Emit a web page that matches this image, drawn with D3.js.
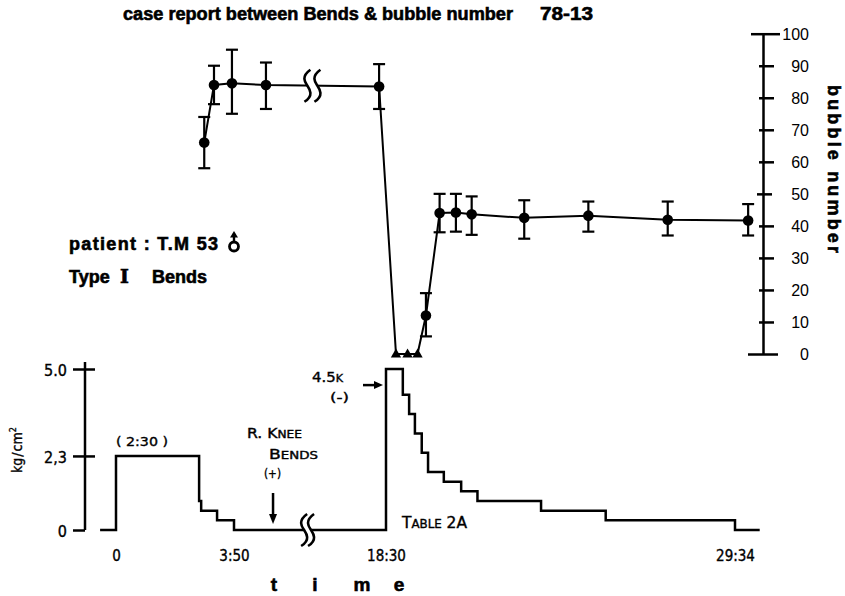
<!DOCTYPE html>
<html lang="en">
<head>
<meta charset="utf-8">
<title>case report between Bends &amp; bubble number 78-13</title>
<script src="https://d3js.org/d3.v7.min.js"></script>
<style>
    body{margin:0;background:#fff;}
    svg{display:block;font-family:"Liberation Sans",Arial,sans-serif;}
    .note{font-family:"DejaVu Sans Condensed","DejaVu Sans",sans-serif;stroke:#000;stroke-width:0.35px;}
    .heavy{stroke:#000;stroke-width:0.6px;}
</style>
</head>
<body>
<div id="chart"></div>
<script>
// time is in minutes from the start of the dive
// bubble counts: mean and the ends of the error bars
var bubbleTime = [172, 191, 226, 415, 1070, 1186, 1212, 1243, 1273, 1373, 1495, 1646, 1799]
var bubbleMean = [66, 84, 84.5, 84, 83.5, 12, 44, 44.2, 43.6, 42.5, 43.2, 41.9, 41.7]
var bubbleLow  = [58, 78, 75, 76.5, 76.5, 5.5, 38, 38.2, 37.2, 36, 38.2, 37, 37]
var bubbleHigh = [74, 90, 95, 91, 90.5, 19, 50, 50, 49.2, 48, 47.6, 47.6, 46.8]
// times where no bubbles were counted (triangles)
var zeroTime = [1129, 1151, 1170]

// pressure profile (kg/cm2), each value holds until the next time
var pressTime  = [-31, 0, 162, 166, 197, 230, 1110, 1142, 1154, 1165, 1178, 1190, 1220, 1253, 1284, 1405, 1528, 1774, 1821]
var pressValue = [0, 2.3, 0.9, 0.6, 0.3, 0, 5.0, 4.2, 3.6, 3.0, 2.4, 1.8, 1.5, 1.2, 0.9, 0.6, 0.3, 0, 0]

var timeTicks = [0, 230, 1110, 1774]
var timeLabels = ["0", "3:50", "18:30", "29:34"]
var pressTicks = [0, 2.3, 5.0]
var pressLabels = ["0", "2,3", "5.0"]
var bubbleTicks = d3.range(0, 101, 10)

// broken time axis
var breakTop = [655, 713]
var breakBottom = [636, 676]
var kneeTime = 456

var w = 845
var h = 596

// time scale has a compressed stretch between 3:50 and 18:30
var x = d3.scaleLinear().domain(timeTicks).range([116, 234, 386, 735])
var yB = d3.scaleLinear().domain([0, 100]).range([354, 33.7])
var yP = d3.scaleLinear().domain([0, 5]).range([530, 369])

var svg = d3.select("#chart").append("svg")
    .attr("width", w)
    .attr("height", h)

svg.append("rect").attr("width", w).attr("height", h).attr("fill", "#fff")

// title
svg.append("text").attr("class", "heavy").attr("x", 123).attr("y", 20)
    .attr("font-size", 18).attr("font-weight", "bold")
    .attr("textLength", 390).attr("lengthAdjust", "spacingAndGlyphs")
    .text("case report between Bends & bubble number")
svg.append("text").attr("class", "heavy").attr("x", 540).attr("y", 20)
    .attr("font-size", 18).attr("font-weight", "bold")
    .attr("textLength", 53).attr("lengthAdjust", "spacingAndGlyphs")
    .text("78-13")

// patient info
svg.append("text").attr("class", "heavy").attr("x", 69).attr("y", 250)
    .attr("font-size", 18).attr("font-weight", "bold")
    .attr("textLength", 149).attr("lengthAdjust", "spacing")
    .text("patient : T.M 53")
// male sign, arrow up
var male = svg.append("g").attr("stroke", "#000").attr("fill", "none")
male.append("circle").attr("cx", 234).attr("cy", 246.5).attr("r", 4.5).attr("stroke-width", 2.8)
male.append("line").attr("x1", 234).attr("x2", 234).attr("y1", 242).attr("y2", 236).attr("stroke-width", 2.4)
male.append("path").attr("d", "M230,237.5L234,231L238,237.5Z").attr("fill", "#000").attr("stroke", "none")

var typeText = svg.append("text").attr("class", "heavy").attr("y", 283).attr("font-size", 18).attr("font-weight", "bold")
typeText.append("tspan").attr("x", 69).text("Type")
typeText.append("tspan").attr("x", 120).attr("font-family", "'DejaVu Serif',serif").attr("font-size", 19).text("I")
typeText.append("tspan").attr("x", 152).text("Bends")

// ---- bubble panel ----
var rightAxis = svg.append("g")
    .attr("transform", "translate(763,0)")
    .call(d3.axisRight(yB).tickValues(bubbleTicks).tickSize(11).tickSizeOuter(0))
rightAxis.select(".domain").attr("stroke-width", 2.5)
rightAxis.selectAll(".tick line")
    .attr("stroke-width", 2.5)
    .attr("x1", function(d){ return d == 0 ? -15 : d == 100 ? -12 : d == 50 ? -6 : -4 })
    .attr("x2", function(d){ return d == 0 ? 15 : d == 100 ? 17 : d == 50 ? 9 : 11 })
rightAxis.selectAll(".tick text")
    .attr("x", 46).attr("dy", "0.36em")
    .attr("text-anchor", "end")
    .attr("font-family", "'Liberation Sans Narrow','Liberation Sans',sans-serif")
    .attr("font-size", 16).attr("fill", "#000")

svg.append("text")
    .attr("class", "heavy")
    .attr("transform", "translate(828,169) rotate(90)")
    .attr("text-anchor", "middle")
    .attr("font-size", 18).attr("font-weight", "bold")
    .attr("textLength", 168).attr("lengthAdjust", "spacing")
    .text("bubble number")

// connecting line through bubble counts and zero counts
var pts = bubbleTime.map(function(t, i){ return {t: t, v: bubbleMean[i]} })
    .concat(zeroTime.map(function(t){ return {t: t, v: 0} }))
    .sort(function(a, b){ return a.t - b.t })

var bubbleLine = d3.line().x(function(d){ return x(d.t) }).y(function(d){ return yB(d.v) })
svg.append("path").datum(pts)
    .attr("d", bubbleLine)
    .attr("fill", "none").attr("stroke", "#000").attr("stroke-width", 2)

// error bars
var bars = svg.append("g").attr("stroke", "#000").attr("stroke-width", 2.2)
bubbleTime.forEach(function(t, i){
    var cx = x(t)
    bars.append("line").attr("x1", cx).attr("x2", cx).attr("y1", yB(bubbleLow[i])).attr("y2", yB(bubbleHigh[i]))
    bars.append("line").attr("x1", cx - 6).attr("x2", cx + 6).attr("y1", yB(bubbleLow[i])).attr("y2", yB(bubbleLow[i]))
    bars.append("line").attr("x1", cx - 6).attr("x2", cx + 6).attr("y1", yB(bubbleHigh[i])).attr("y2", yB(bubbleHigh[i]))
})

svg.selectAll("circle.mean")
    .data(bubbleTime)
    .enter()
    .append("circle")
    .attr("class", "mean")
    .attr("cx", function(d){ return x(d) })
    .attr("cy", function(d, i){ return yB(bubbleMean[i]) })
    .attr("r", 5.3)
    .attr("fill", "#000")

svg.selectAll("path.zero")
    .data(zeroTime)
    .enter()
    .append("path")
    .attr("class", "zero")
    .attr("d", d3.symbol().type(d3.symbolTriangle).size(46))
    .attr("transform", function(d){ return "translate(" + x(d) + "," + (yB(0) + 0.5) + ")" })
    .attr("fill", "#000")

// break marks
function drawBreak(times, yc){
    svg.append("rect")
        .attr("x", x(times[0])).attr("width", x(times[1]) - x(times[0]))
        .attr("y", yc - 8).attr("height", 16)
        .attr("fill", "#fff")
    times.forEach(function(t){
        var cx = x(t)
        svg.append("path")
            .attr("d", "M" + (cx + 3) + "," + (yc - 16) +
                       "C" + (cx - 7) + "," + (yc - 9) + " " + (cx - 2) + "," + (yc - 3) + " " + cx + "," + yc +
                       "S" + (cx + 7) + "," + (yc + 10) + " " + (cx - 3) + "," + (yc + 16))
            .attr("fill", "none").attr("stroke", "#000").attr("stroke-width", 2.6)
    })
}
drawBreak(breakTop, yB((bubbleMean[3] + bubbleMean[4]) / 2))

// ---- pressure panel ----
var leftAxis = svg.append("g")
    .attr("transform", "translate(85,0)")
    .call(d3.axisLeft(yP).tickValues(pressTicks).tickFormat(function(d, i){ return pressLabels[i] }).tickSizeOuter(0))
leftAxis.select(".domain").attr("stroke-width", 2.5)
    .attr("d", "M0," + yP(0) + "V" + (yP(5) - 7))
leftAxis.selectAll(".tick line")
    .attr("stroke-width", 2.5)
    .attr("x1", -12)
    .attr("x2", function(d){ return d == 0 ? 0 : 10 })
leftAxis.selectAll(".tick text")
    .attr("x", -18).attr("dy", "0.4em")
    .attr("font-family", "'DejaVu Sans Condensed','DejaVu Sans',sans-serif")
    .attr("font-size", 16).attr("fill", "#000")
    .attr("stroke", "#000").attr("stroke-width", 0.35)

svg.append("text")
    .attr("class", "note")
    .attr("transform", "translate(22,450) rotate(-90)")
    .attr("text-anchor", "middle")
    .attr("font-size", 14)
    .html("kg<tspan dx='1'>/</tspan><tspan dx='1'>cm</tspan><tspan font-size='9' dy='-6'>2</tspan>")

var stepLine = d3.line()
    .x(function(d){ return x(d) })
    .y(function(d, i){ return yP(pressValue[i]) })
    .curve(d3.curveStepAfter)
svg.append("path").datum(pressTime)
    .attr("d", stepLine)
    .attr("fill", "none").attr("stroke", "#000").attr("stroke-width", 2.5)

drawBreak(breakBottom, yP(0))

var bottomAxis = svg.append("g")
    .attr("transform", "translate(0," + yP(0) + ")")
    .call(d3.axisBottom(x).tickValues(timeTicks).tickFormat(function(d, i){ return timeLabels[i] }).tickSize(0))
bottomAxis.select(".domain").remove()
bottomAxis.selectAll(".tick text")
    .attr("y", 31).attr("dy", 0)
    .attr("font-family", "'DejaVu Sans Condensed','DejaVu Sans',sans-serif")
    .attr("font-size", 15).attr("fill", "#000")
    .attr("stroke", "#000").attr("stroke-width", 0.35)

var timeTitle = svg.append("text").attr("class", "heavy").attr("y", 591).attr("font-size", 19).attr("font-weight", "bold").attr("text-anchor", "middle")
timeTitle.append("tspan").attr("x", 274).text("t")
timeTitle.append("tspan").attr("x", 315).text("i")
timeTitle.append("tspan").attr("x", 362).text("m")
timeTitle.append("tspan").attr("x", 399).text("e")

// annotations
svg.append("text").attr("class", "note")
    .attr("x", x(0)).attr("y", yP(2.3) - 10)
    .attr("font-size", 13)
    .attr("textLength", 52).attr("lengthAdjust", "spacingAndGlyphs")
    .attr("xml:space", "preserve")
    .text("( 2:30 )")

var knee = svg.append("text").attr("class", "note").attr("x", 247).attr("y", 438).attr("font-size", 13.5)
    .attr("textLength", 55).attr("lengthAdjust", "spacingAndGlyphs")
knee.append("tspan").text("R. K")
knee.append("tspan").attr("font-size", 10.5).text("NEE")
var bends = svg.append("text").attr("class", "note").attr("x", 269).attr("y", 459).attr("font-size", 13.5)
    .attr("textLength", 49).attr("lengthAdjust", "spacingAndGlyphs")
bends.append("tspan").text("B")
bends.append("tspan").attr("font-size", 10.5).text("ENDS")
svg.append("text").attr("class", "note").attr("x", 264).attr("y", 478).attr("font-size", 13)
    .attr("textLength", 17).attr("lengthAdjust", "spacingAndGlyphs")
    .text("(+)")

// arrow pointing at onset of bends
svg.append("line")
    .attr("x1", x(kneeTime)).attr("x2", x(kneeTime))
    .attr("y1", yP(0) - 37).attr("y2", yP(0) - 14)
    .attr("stroke", "#000").attr("stroke-width", 2.5)
svg.append("path")
    .attr("d", "M" + (x(kneeTime) - 4) + "," + (yP(0) - 16) + "L" + x(kneeTime) + "," + (yP(0) - 6) + "L" + (x(kneeTime) + 4) + "," + (yP(0) - 16) + "Z")
    .attr("fill", "#000")

var rec = svg.append("text").attr("class", "note").attr("x", 312).attr("y", 382).attr("font-size", 14)
    .attr("textLength", 31).attr("lengthAdjust", "spacingAndGlyphs")
rec.append("tspan").text("4.5")
rec.append("tspan").attr("font-size", 10.5).text("K")
svg.append("text").attr("class", "note").attr("x", 330).attr("y", 402).attr("font-size", 13)
    .attr("textLength", 19).attr("lengthAdjust", "spacingAndGlyphs")
    .text("(-)")

// arrow towards the recompression at 4.5 kg/cm2
svg.append("line")
    .attr("x1", x(1110) - 23).attr("x2", x(1110) - 10)
    .attr("y1", yP(4.5)).attr("y2", yP(4.5))
    .attr("stroke", "#000").attr("stroke-width", 2.5)
svg.append("path")
    .attr("d", "M" + (x(1110) - 12) + "," + (yP(4.5) - 4) + "L" + (x(1110) - 3) + "," + yP(4.5) + "L" + (x(1110) - 12) + "," + (yP(4.5) + 4) + "Z")
    .attr("fill", "#000")

var table = svg.append("text").attr("class", "note").attr("x", 402).attr("y", 528).attr("font-size", 15)
    .attr("textLength", 65).attr("lengthAdjust", "spacingAndGlyphs")
table.append("tspan").text("T")
table.append("tspan").attr("font-size", 11.5).text("ABLE")
table.append("tspan").text(" 2A")
</script>
</body>
</html>
